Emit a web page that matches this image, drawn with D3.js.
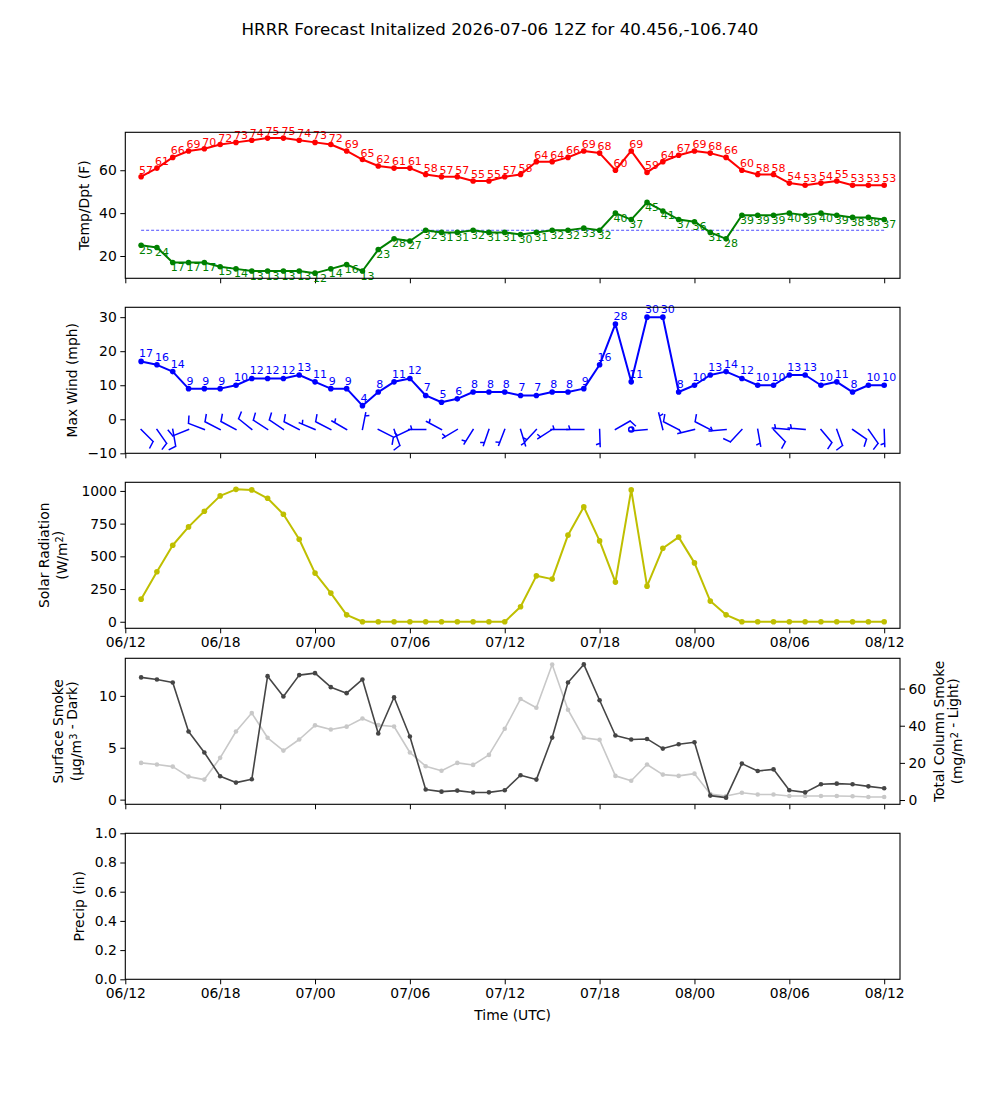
<!DOCTYPE html>
<html>
<head>
<meta charset="utf-8">
<script src="https://cdn.jsdelivr.net/npm/d3@7/dist/d3.min.js"></script>
<style>
  body { margin: 0; background: #fff; }
  svg { font-family: "DejaVu Sans", sans-serif; }
</style>
</head>
<body>
<div id="chart"></div>
<script>
// forecast run and valid hours
const initTime = new Date(Date.UTC(2026, 6, 6, 12));
const fcstHours = d3.range(1, 49);
const tickHours = [0, 6, 12, 18, 24, 30, 36, 42, 48];

const tempF = [57, 61, 66, 69, 70, 72, 73, 74, 75, 75, 74, 73, 72, 69, 65, 62, 61, 61, 58, 57, 57, 55, 55, 57,
  58, 64, 64, 66, 69, 68, 60, 69, 59, 64, 67, 69, 68, 66, 60, 58, 58, 54, 53, 54, 55, 53, 53, 53];
const dewF = [25, 24, 17, 17, 17, 15, 14, 13, 13, 13, 13, 12, 14, 16, 13, 23, 28, 27, 32, 31, 31, 32, 31, 31,
  30, 31, 32, 32, 33, 32, 40, 37, 45, 41, 37, 36, 31, 28, 39, 39, 39, 40, 39, 40, 39, 38, 38, 37];
const maxWind = [17, 16, 14, 9, 9, 9, 10, 12, 12, 12, 13, 11, 9, 9, 4, 8, 11, 12, 7, 5, 6, 8, 8, 8,
  7, 7, 8, 8, 9, 16, 28, 11, 30, 30, 8, 10, 13, 14, 12, 10, 10, 13, 13, 10, 11, 8, 10, 10];
// barb direction (deg, from) and speed
const barbDir = [135, 145, 170, 248, 291, 297, 298, 309, 303, 304, 297, 293, 297, 300, 11, 117, 160, 244, 270, 298, 239, 212, 199, 201,
  163, 223, 237, 270, 270, 178, 60, 0, 265, 346, 297, 256, 297, 265, 223, 170, 136, 275, 275, 140, 160, 125, 145, 178];
const barbSpeed = [10, 10, 10, 10, 10, 10, 10, 10, 10, 10, 10, 5, 10, 5, 5, 10, 10, 5, 5, 5, 5, 5, 5, 5,
  5, 5, 5, 5, 5, 5, 10, 0, 5, 5, 10, 5, 10, 5, 10, 5, 10, 5, 5, 10, 10, 10, 10, 5];
const solarRad = [173, 382, 585, 725, 845, 962, 1012, 1008, 944, 822, 631, 372, 219, 53, 0, 0, 0, 0, 0, 0, 0, 0, 0, 0,
  115, 351, 326, 662, 878, 618, 303, 1008, 272, 562, 647, 450, 158, 53, 0, 0, 0, 0, 0, 0, 0, 0, 0, 0];
const smokeSfc = [11.78, 11.58, 11.29, 6.56, 4.54, 2.25, 1.64, 1.96, 11.9, 9.94, 12.0, 12.19, 10.84, 10.26, 11.58, 6.37, 9.87, 6.08, 0.97, 0.77, 0.87, 0.68, 0.7, 0.9,
  2.35, 1.93, 5.98, 11.29, 13.03, 9.58, 6.18, 5.79, 5.85, 4.92, 5.34, 5.53, 0.39, 0.19, 3.47, 2.76, 2.92, 0.9, 0.7, 1.48, 1.54, 1.48, 1.28, 1.09];
const smokeCol = [20.0, 19.1, 18.0, 12.6, 11.0, 22.7, 36.9, 46.8, 33.5, 26.6, 32.6, 40.2, 38.0, 39.5, 43.9, 40.3, 39.6, 25.6, 18.2, 15.8, 20.0, 18.9, 24.3, 38.4,
  54.4, 49.7, 73.0, 48.6, 33.5, 32.4, 13.0, 10.4, 19.1, 13.7, 13.0, 14.2, 3.2, 2.2, 3.9, 3.0, 3.0, 2.2, 2.2, 2.2, 2.2, 2.0, 1.6, 1.6];

const width = 1000, height = 1100;
const left = 125.3, right = 900;
const panelTop = [132.3, 307.3, 482.3, 658.3, 833.3];
const panelH = 146;

const svg = d3.select("#chart").append("svg")
  .attr("width", width)
  .attr("height", height);

const hourDate = h => new Date(initTime.getTime() + h * 3600e3);
const times = fcstHours.map(hourDate);

const x = d3.scaleUtc()
  .domain([hourDate(0), hourDate(49)])
  .range([left, right]);

function panel(i, domain, ticks, fmt, showDates) {
  const y = d3.scaleLinear().domain(domain).range([panelTop[i] + panelH, panelTop[i]]);
  const g = svg.append("g");
  g.append("g")
    .attr("transform", `translate(${left},0)`)
    .call(d3.axisLeft(y).tickValues(ticks).tickFormat(fmt).tickSize(5).tickPadding(3.5).tickSizeOuter(0));
  g.append("g")
    .attr("transform", `translate(0,${panelTop[i] + panelH})`)
    .call(d3.axisBottom(x)
      .tickValues(tickHours.map(hourDate))
      .tickFormat(showDates ? d3.utcFormat("%d/%H") : "")
      .tickSize(5).tickPadding(3.5).tickSizeOuter(0));
  g.selectAll(".domain").remove();
  g.selectAll(".tick line").attr("stroke", "#000").attr("stroke-width", 1);
  g.selectAll(".tick text").attr("fill", "#000").style("font-size", "13.9px")
    .style("font-family", "DejaVu Sans");
  return { g, y };
}

function frame(i) {
  svg.append("rect")
    .attr("x", left).attr("y", panelTop[i])
    .attr("width", right - left).attr("height", panelH)
    .attr("fill", "none").attr("stroke", "#000").attr("stroke-width", 1.1);
}

function series(g, y, values, color, lw, r) {
  const line = d3.line().x((d, k) => x(times[k])).y(d => y(d));
  g.append("path").datum(values)
    .attr("fill", "none").attr("stroke", color).attr("stroke-width", lw)
    .attr("stroke-linejoin", "round")
    .attr("d", line);
  g.selectAll(null).data(values).join("circle")
    .attr("cx", (d, k) => x(times[k]))
    .attr("cy", d => y(d))
    .attr("r", r)
    .attr("fill", color);
}

function labels(g, y, values, color, dy) {
  g.selectAll(null).data(values).join("text")
    .attr("x", (d, k) => x(times[k]) - 2)
    .attr("y", d => y(d) + dy)
    .attr("fill", color)
    .style("font-size", "11px")
    .text(d => Math.round(d));
}

function ylabel(lines, cx, cy) {
  const t = svg.append("text")
    .attr("transform", `translate(${cx},${cy}) rotate(-90)`)
    .attr("text-anchor", "middle")
    .style("font-size", "13.9px");
  lines.forEach((ln, k) => {
    const tl = t.append("tspan").attr("x", 0).attr("dy", k === 0 ? 0 : "1.3em");
    ln.forEach(part => {
      if (typeof part === "object") {
        tl.append("tspan").attr("dy", "-0.4em").style("font-size", "9.7px").text(part.sup);
        tl.append("tspan").attr("dy", "0.4em").text("");
      } else {
        tl.append("tspan").text(part);
      }
    });
  });
}

// Title
svg.append("text")
  .attr("x", 500).attr("y", 35)
  .attr("text-anchor", "middle")
  .style("font-size", "16.7px")
  .text("HRRR Forecast Initalized 2026-07-06 12Z for 40.456,-106.740");

// Panel 1: temperature / dew point
const p1 = panel(0, [9.6, 77.7], [20, 40, 60], d3.format("d"), false);
p1.g.append("path")
  .datum([times[0], times[times.length - 1]])
  .attr("fill", "none").attr("stroke", "blue").attr("stroke-width", 0.7)
  .attr("stroke-dasharray", "3,2")
  .attr("d", d3.line().x(d => x(d)).y(() => p1.y(32)));
series(p1.g, p1.y, tempF, "red", 2, 2.8);
series(p1.g, p1.y, dewF, "green", 2, 2.8);
labels(p1.g, p1.y, tempF, "red", -3);
labels(p1.g, p1.y, dewF, "green", 8.5);
frame(0);
ylabel([["Temp/Dpt (F)"]], 89, panelTop[0] + panelH / 2);

// Panel 2: max wind + barbs
const p2 = panel(1, [-10, 32.9], [-10, 0, 10, 20, 30], d => d < 0 ? "\u2212" + Math.abs(d) : d, false);
series(p2.g, p2.y, maxWind, "blue", 2, 2.8);
labels(p2.g, p2.y, maxWind, "blue", -4);

const barbLen = 17;
function barbPath(cx, cy, dir, spd) {
  const b = dir * Math.PI / 180;
  const sx = Math.sin(b), sy = Math.cos(b);
  const px = sy, py = -sx;
  const L = barbLen, sp = 0.125 * L, h = 0.4 * L, w2 = 0.125 * L;
  const P = (X, Y) => `${(cx + X).toFixed(2)},${(cy - Y).toFixed(2)}`;
  let d = `M${P(0, 0)}L${P(L * sx, L * sy)}`;
  let off = L;
  const nFull = Math.floor(spd / 10);
  const half = spd % 10 >= 5;
  for (let k = 0; k < nFull; k++) {
    d += `M${P(off * sx, off * sy)}L${P(off * sx + h * px + w2 * sx, off * sy + h * py + w2 * sy)}`;
    off -= sp;
  }
  if (half) {
    if (off === L) off -= 1.5 * sp;
    d += `M${P(off * sx, off * sy)}L${P(off * sx + h / 2 * px + w2 / 2 * sx, off * sy + h / 2 * py + w2 / 2 * sy)}`;
  }
  return d;
}
const barbY = p2.y(-3);
p2.g.selectAll(null).data(barbDir).join("path")
  .attr("d", (d, k) => barbSpeed[k] < 2.5
    ? d3.arc()({ innerRadius: 0, outerRadius: 0.15 * barbLen, startAngle: 0, endAngle: 2 * Math.PI })
    : barbPath(x(times[k]), barbY, d, barbSpeed[k]))
  .attr("transform", (d, k) => barbSpeed[k] < 2.5 ? `translate(${x(times[k])},${barbY})` : null)
  .attr("fill", "none").attr("stroke", "blue").attr("stroke-width", 1.5)
  .attr("stroke-linecap", "square");
frame(1);
ylabel([["Max Wind (mph)"]], 77, panelTop[1] + panelH / 2);

// Panel 3: solar radiation
const p3 = panel(2, [-50, 1066], [0, 250, 500, 750, 1000], d3.format("d"), true);
series(p3.g, p3.y, solarRad, "#bfbf00", 2, 2.8);
frame(2);
ylabel([["Solar Radiation"], ["(W/m", { sup: "2" }, ")"]], 49, panelTop[2] + panelH / 2);

// Panel 4: smoke (two y axes)
const p4 = panel(3, [-0.45, 13.62], [0, 5, 10], d3.format("d"), false);
const yR = d3.scaleLinear().domain([-2.3, 76.3]).range([panelTop[3] + panelH, panelTop[3]]);
const axR = svg.append("g")
  .attr("transform", `translate(${right},0)`)
  .call(d3.axisRight(yR).tickValues([0, 20, 40, 60]).tickSize(5).tickPadding(3.5).tickSizeOuter(0));
axR.select(".domain").remove();
axR.selectAll(".tick text").style("font-size", "13.9px").style("font-family", "DejaVu Sans");
series(p4.g, yR, smokeCol, "#c8c8c8", 1.6, 2.3);
series(p4.g, p4.y, smokeSfc, "#454545", 1.6, 2.3);
frame(3);
ylabel([["Surface Smoke"], ["(\u03bcg/m", { sup: "3" }, " - Dark)"]], 63, panelTop[3] + panelH / 2);
ylabel([["Total Column Smoke"], ["(mg/m", { sup: "2" }, " - Light)"]], 944, panelTop[3] + panelH / 2);

// Panel 5: precip (empty)
const p5 = panel(4, [0, 1], [0, 0.2, 0.4, 0.6, 0.8, 1.0], d3.format(".1f"), true);
frame(4);
ylabel([["Precip (in)"]], 84, panelTop[4] + panelH / 2);

svg.append("text")
  .attr("x", (left + right) / 2).attr("y", 1020)
  .attr("text-anchor", "middle")
  .style("font-size", "13.9px")
  .text("Time (UTC)");
</script>
</body>
</html>
